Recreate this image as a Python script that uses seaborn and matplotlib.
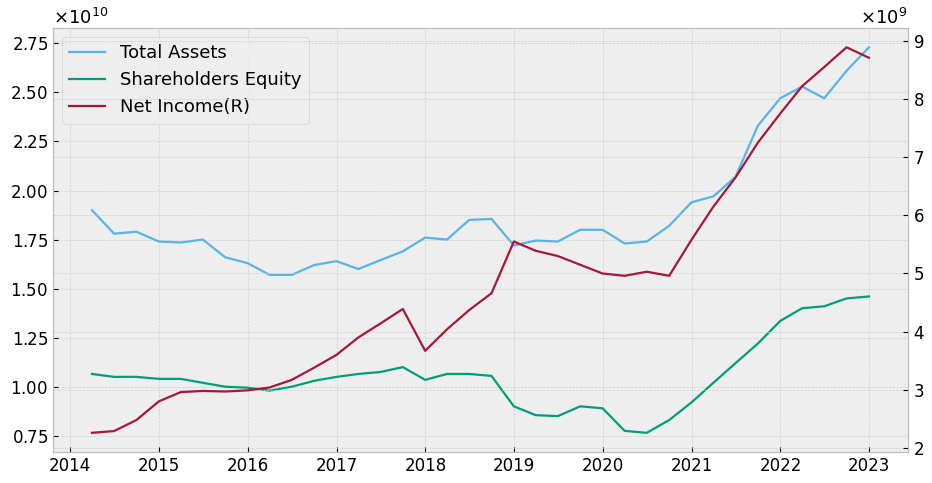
import numpy as np
import pandas as pd
import matplotlib
matplotlib.use("Agg")
import matplotlib.pyplot as plt
import seaborn as sns

# quarterly report dates
dates = pd.date_range("2014-03-31", "2022-12-31", freq="QE")

# values in units of 1e10 (left axis)
total_assets = [1.90, 1.78, 1.79, 1.74, 1.735, 1.75, 1.66, 1.63, 1.57, 1.57,
                1.62, 1.64, 1.60, 1.645, 1.69, 1.76, 1.75, 1.85, 1.855, 1.72,
                1.745, 1.74, 1.80, 1.80, 1.73, 1.74, 1.82, 1.94, 1.97, 2.07,
                2.33, 2.47, 2.53, 2.47, 2.61, 2.73]
shareholders_equity = [1.065, 1.05, 1.05, 1.04, 1.04, 1.02, 1.0, 0.995, 0.98, 1.0,
                       1.03, 1.05, 1.065, 1.075, 1.10, 1.035, 1.065, 1.065, 1.055, 0.90,
                       0.855, 0.85, 0.90, 0.89, 0.775, 0.765, 0.83, 0.92, 1.02, 1.12,
                       1.22, 1.335, 1.40, 1.41, 1.45, 1.46]
# values in units of 1e9 (right axis)
net_income = [2.26, 2.29, 2.48, 2.80, 2.96, 2.98, 2.97, 2.99, 3.04, 3.17,
              3.38, 3.60, 3.90, 4.14, 4.39, 3.67, 4.04, 4.37, 4.66, 5.55,
              5.39, 5.30, 5.15, 5.00, 4.96, 5.03, 4.96, 5.58, 6.15, 6.65,
              7.25, 7.75, 8.22, 8.55, 8.89, 8.71]

df = pd.DataFrame({
    "date": dates,
    "Total Assets": np.array(total_assets) * 1e10,
    "Shareholders Equity": np.array(shareholders_equity) * 1e10,
    "Net Income(R)": np.array(net_income) * 1e9,
})

plt.style.use("bmh")
plt.rcParams["font.family"] = ["DejaVu Sans"]
plt.rcParams["mathtext.fontset"] = "dejavusans"
plt.rcParams["font.size"] = 13
plt.rcParams["grid.color"] = "#cfcfcf"
plt.rcParams["axes.formatter.use_mathtext"] = True

fig, ax = plt.subplots(figsize=(9.32, 4.83), dpi=100)
fig.subplots_adjust(left=0.057, right=0.974, bottom=0.064, top=0.942)

sns.lineplot(data=df, x="date", y="Total Assets", ax=ax, color="#56B4E9",
             linewidth=1.6, label="Total Assets", legend=False)
sns.lineplot(data=df, x="date", y="Shareholders Equity", ax=ax, color="#009E73",
             linewidth=1.6, label="Shareholders Equity", legend=False)

ax2 = ax.twinx()
sns.lineplot(data=df, x="date", y="Net Income(R)", ax=ax2, color="#A6173A",
             linewidth=1.6, label="Net Income(R)", legend=False)

for a in (ax, ax2):
    a.set_xlabel("")
    a.set_ylabel("")
    a.tick_params(labelsize=12)
    a.yaxis.get_offset_text().set_fontsize(13)

h1, l1 = ax.get_legend_handles_labels()
h2, l2 = ax2.get_legend_handles_labels()
ax.legend(h1 + h2, l1 + l2, loc="upper left", fontsize=13)

fig.savefig("out.png", dpi=100)
